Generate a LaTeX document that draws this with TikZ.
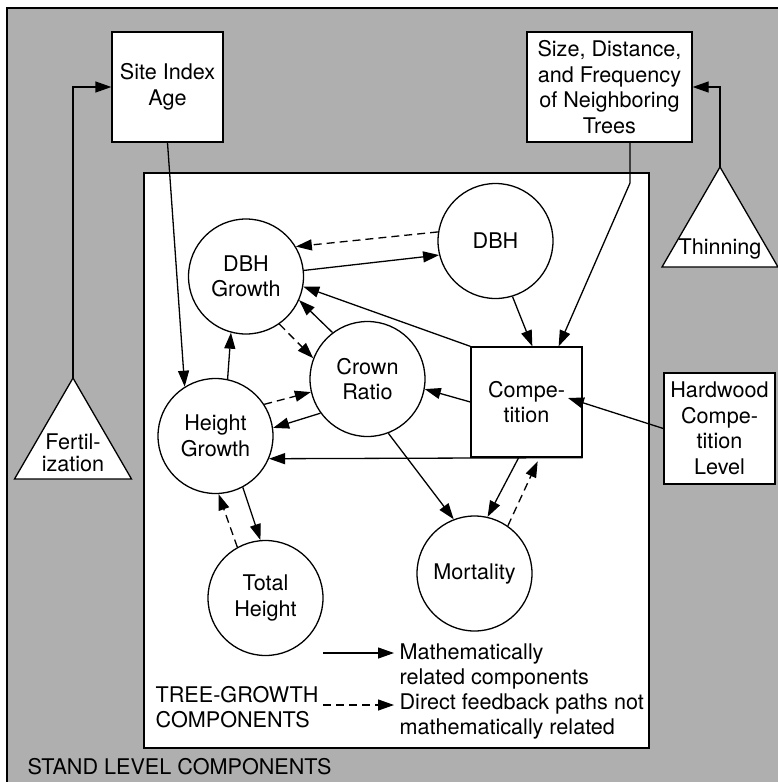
\documentclass[tikz,border=0pt]{standalone}
\usepackage{fontspec}
\setmainfont{TeX Gyre Heros}
\usetikzlibrary{arrows.meta,calc}
\definecolor{standgray}{RGB}{175,175,175}
\begin{document}
\begin{tikzpicture}[x=1pt,y=-1pt,
  font=\fontsize{21.6}{25.5}\selectfont,
  line width=1.3pt,
  comp/.style={circle,draw,fill=white,minimum size=115pt,inner sep=0pt,align=center},
  box/.style={draw,fill=white,inner sep=0pt,align=center},
  rel/.style={-{Triangle[length=16pt,width=11pt]}},
  feed/.style={rel,dash pattern=on 8pt off 5pt},
  legendtext/.style={anchor=west,align=left,inner sep=0pt},
]
\useasboundingbox (0,0) rectangle (777,782);

% stand level (outer) and tree-growth (inner) panels
\draw[fill=standgray] (7,800) -- (7,8) -- (800,8) -- (800,800) -- cycle;
\draw[fill=white] (144,173) rectangle (649,748);

% stand level inputs
\node[box,minimum width=111pt,minimum height=110pt] (site) at (167.5,87) {Site Index\\Age};
\node[box,minimum width=165pt,minimum height=110pt] (size) at (609.5,87) {Size, Distance,\\and Frequency\\of Neighboring\\Trees};
\node[box,minimum width=111pt,minimum height=111pt] (hw) at (719.5,428.5) {Hardwood\\Compe-\\tition\\Level};

% treatments
\coordinate (fapex) at (73,378);
\draw[fill=white] (fapex) -- (131.5,479) -- (14.5,479) -- cycle;
\node[align=center,inner sep=0pt,font=\fontsize{21.6}{22}\selectfont] (fert) at (73,453) {Fertil-\\ization};
\coordinate (tapex) at (720,167);
\draw[fill=white] (tapex) -- (778,267) -- (662,267) -- cycle;
\node[inner sep=0pt] (thin) at (720,249) {Thinning};

% tree-growth components
\node[box,minimum width=111pt,minimum height=110pt] (comp) at (526.5,402) {Compe-\\tition};
\node[comp] (dbhg) at (246,276.5) {DBH\\Growth};
\node[comp] (dbh) at (495.5,241) {DBH};
\node[comp] (crown) at (367.5,379) {Crown\\Ratio};
\node[comp] (hgt) at (215.5,436) {Height\\Growth};
\node[comp] (tot) at (265.5,598) {Total\\Height};
\node[comp] (mort) at (474.5,573.5) {Mortality};

% stand level links
\draw[rel] (site.south) -- (hgt.122.7);
\draw[rel] (fapex) |- (site.west);
\draw[rel] (tapex) |- (size.east);
\coordinate (sbend) at (630,183);
\draw[rel] (sbend |- size.south) -- (sbend) -- (comp.60.8);
\draw[rel] (hw.west) -- ([shift={(41.5,-4)}]comp.center);

% tree-growth links
\draw[rel] (dbhg.6.3) -- (dbh.194.6);
\draw[feed] (dbh.171) -- (dbhg.31.7);
\draw[rel] (comp.north west) -- (dbhg.-10.6);
\draw[rel] (crown.127.7) -- (dbhg.-24.9);
\draw[feed] (dbhg.-55) -- (crown.159.3);
\draw[rel] (hgt.78.6) -- (dbhg.-105.8);
\draw[feed] (hgt.33.1) -- (crown.193.2);
\draw[rel] (crown.216.8) -- (hgt.8.9);
\draw[rel] (comp.west) -- (crown.-10.8);
\draw[rel] (comp.south east) -- (hgt.-23.8);
\draw[rel] (crown.-69.6) -- (mort.111.7);
\draw[rel] (comp.-98.8) -- (mort.77);
\draw[feed,shorten >=4pt] (mort.55.4) -- (comp.-77);
\draw[rel] (dbh.-73) -- (comp.84.3);
\draw[rel] (hgt.-62.5) -- (tot.95.4);
\draw[feed] (tot.119.2) -- (hgt.-87.5);

% legend
\coordinate (ls1) at (323,653);
\coordinate (le1) at (394,653);
\draw[rel] (ls1) -- (le1);
\coordinate (ls2) at (323,705);
\coordinate (le2) at (394,705);
\draw[feed] (ls2) -- (le2);
\node[legendtext] (mathrel) at (399,666.5) {Mathematically\\related components};
\node[legendtext] (direct) at (399,716.5) {Direct feedback paths not\\mathematically related};
\node[legendtext] (tgc) at (155,707) {TREE-GROWTH\\COMPONENTS};
\node[legendtext] (stand) at (27,767) {STAND LEVEL COMPONENTS};
\end{tikzpicture}
\end{document}
